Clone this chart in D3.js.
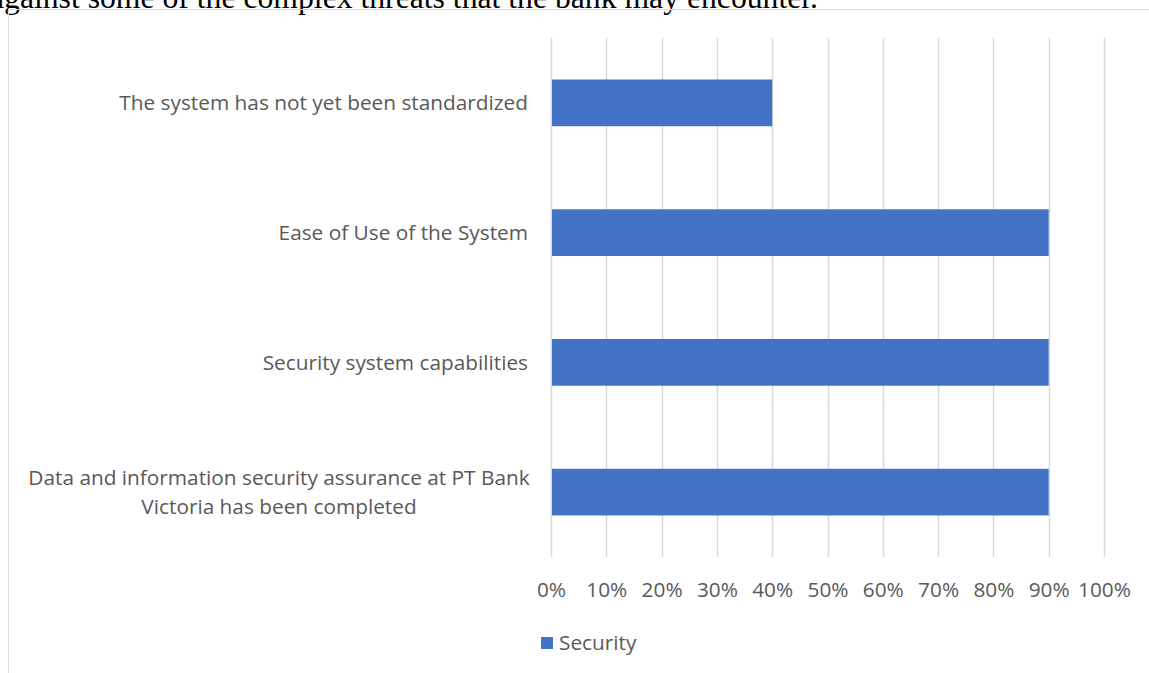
<!DOCTYPE html>
<html>
<head>
<meta charset="utf-8">
<script src="https://cdn.jsdelivr.net/npm/d3@7"></script>
<style>
  html, body { margin: 0; padding: 0; background: #fff; overflow: hidden; }
</style>
</head>
<body>
<div id="chart"></div>
<script>
// Daten (von oben nach unten wie im Bild)
const categories = [
  "The system has not yet been standardized",
  "Ease of Use of the System",
  "Security system capabilities",
  "Data and information security assurance at PT Bank|Victoria has been completed"
];
const values = [0.40, 0.90, 0.90, 0.90];
const tickValues = [0, 0.1, 0.2, 0.3, 0.4, 0.5, 0.6, 0.7, 0.8, 0.9, 1.0];
const seriesName = "Security";
const captionText = "against some of the complex threats that the bank may encounter.";

const W = 1149, H = 673;
const m = { top: 38, right: 45, bottom: 116, left: 551 };
const innerW = W - m.left - m.right, innerH = H - m.top - m.bottom;
const FONT = "'Open Sans', Lato, sans-serif";
const FS = 20.8;
const TXT = "#595959";

const svg = d3.select("#chart").append("svg").attr("width", W).attr("height", H);

// Fließtext oben (abgeschnitten)
svg.append("text").attr("x", -10).attr("y", 8)
  .attr("font-family", "'Liberation Serif', 'DejaVu Serif', serif")
  .attr("font-size", 31.7).attr("fill", "#000").text(captionText);

// Rahmen (nur oben/links sichtbar)
svg.append("line").attr("x1", 8.5).attr("x2", W).attr("y1", 9.5).attr("y2", 9.5).attr("stroke", "#d9d9d9");
svg.append("line").attr("x1", 8.5).attr("x2", 8.5).attr("y1", 9.5).attr("y2", H).attr("stroke", "#d9d9d9");

const g = svg.append("g").attr("transform", `translate(${m.left},${m.top})`);

const x = d3.scaleLinear().domain([0, 1]).range([0, innerW]);
const y = d3.scaleBand().domain(categories).range([0, innerH]).paddingInner(0.64).paddingOuter(0.32);

// Gitterlinien
g.selectAll("line.grid").data(tickValues).join("line")
  .attr("class", "grid")
  .attr("x1", d => Math.round(x(d)) + 0.5).attr("x2", d => Math.round(x(d)) + 0.5)
  .attr("y1", 0).attr("y2", innerH)
  .attr("stroke", "#d9d9d9").attr("stroke-width", 1.5);

// Balken
g.selectAll("rect.bar").data(categories).join("rect")
  .attr("class", "bar")
  .attr("x", x(0) + 1).attr("y", d => y(d))
  .attr("width", (d, i) => x(values[i]) - x(0) - 1)
  .attr("height", y.bandwidth())
  .attr("fill", "#4472c4");

// x-Achse (Beschriftungen)
const ax = g.append("g").attr("transform", `translate(0,${innerH})`)
  .call(d3.axisBottom(x).tickValues(tickValues).tickFormat(d3.format(".0%")).tickSize(0).tickPadding(25));
ax.select(".domain").remove();
ax.selectAll("text").attr("font-family", FONT).attr("font-size", FS).attr("fill", TXT);

// Kategorien (rechtsbündig, ggf. zweizeilig)
const yl = g.append("g");
categories.forEach(c => {
  const lines = c.split("|");
  const cy = y(c) + y.bandwidth() / 2;
  const lh = 29;
  const t = yl.append("text")
    .attr("text-anchor", "middle")
    .attr("font-family", FONT).attr("font-size", FS).attr("fill", TXT);
  if (lines.length === 1) {
    t.attr("text-anchor", "end").attr("x", -23).attr("y", cy).attr("dy", "0.35em").text(lines[0]);
  } else {
    lines.forEach((l, i) => {
      t.append("tspan").attr("x", -272).attr("y", cy + (i - (lines.length - 1) / 2) * lh)
        .attr("dy", "0.35em").text(l);
    });
  }
});

// Legende
const lg = svg.append("g").attr("transform", "translate(541,643)");
lg.append("rect").attr("x", 0).attr("y", -6).attr("width", 12).attr("height", 12).attr("fill", "#4472c4");
lg.append("text").attr("x", 18).attr("y", 0).attr("dy", "0.35em")
  .attr("font-family", FONT).attr("font-size", FS).attr("fill", TXT).text(seriesName);
</script>
</body>
</html>
